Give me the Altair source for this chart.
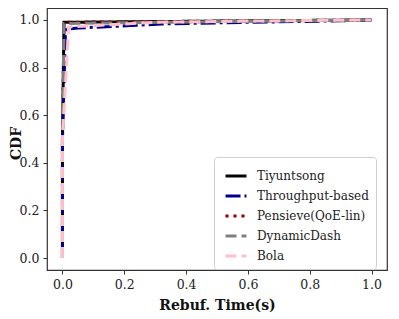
import altair as alt
import pandas as pd

series = ["Tiyuntsong", "Throughput-based", "Pensieve(QoE-lin)", "DynamicDash", "Bola"]
colors = ["#000000", "#00008b", "#8b0000", "#808080", "#ffc0cb"]
dashes = [[1, 0], [15, 4, 3, 4], [3, 5], [11, 5], [11, 5]]

tiy_x = [0.0, 0.0, 0.005, 1.0]
tiy_y = [0.0, 0.5, 0.99, 1.0]
thr_x = [0.0, 0.0, 0.01, 0.05, 0.22, 0.32, 0.6, 0.9, 1.0]
thr_y = [0.0, 0.5, 0.96, 0.966, 0.976, 0.983, 0.99, 0.996, 1.0]
pen_x = [0.0, 0.0, 0.005, 1.0]
pen_y = [0.0, 0.5, 0.99, 1.0]
dyn_x = [0.0, 0.0, 0.005, 1.0]
dyn_y = [0.0, 0.5, 0.985, 1.0]
bol_x = [0.0, 0.0, 0.02, 0.3, 0.6, 1.0]
bol_y = [0.0, 0.5, 0.97, 0.99, 0.995, 1.0]

xs = [tiy_x, thr_x, pen_x, dyn_x, bol_x]
ys = [tiy_y, thr_y, pen_y, dyn_y, bol_y]

font = "DejaVu Serif"

color_scale = alt.Scale(domain=series, range=colors)
dash_scale = alt.Scale(domain=series, range=dashes)

layers = []
for i, name in enumerate(series):
    df = pd.DataFrame({"x": xs[i], "y": ys[i], "s": name, "o": list(range(len(xs[i])))})
    legend = None
    if i == 0:
        legend = alt.Legend(title=None, orient="none", legendX=167, legendY=149)
    enc = dict(
        x=alt.X("x:Q", scale=alt.Scale(domain=[-0.05, 1.05], nice=False, zero=False),
                axis=alt.Axis(title="Rebuf. Time(s)", values=[0, 0.2, 0.4, 0.6, 0.8, 1.0], format=".1f")),
        y=alt.Y("y:Q", scale=alt.Scale(domain=[-0.05, 1.05], nice=False, zero=False),
                axis=alt.Axis(title="CDF", values=[0, 0.2, 0.4, 0.6, 0.8, 1.0], format=".1f",
                              titleX=-24, titleY=135)),
        order="o:Q",
    )
    enc["color"] = alt.Color("s:N", scale=color_scale, legend=legend)
    enc["strokeDash"] = alt.StrokeDash("s:N", scale=dash_scale, legend=legend)
    layers.append(alt.Chart(df).mark_line(strokeWidth=3, clip=True).encode(**enc))

chart = alt.layer(*layers).properties(
    width=340, height=262,
    autosize=alt.AutoSizeParams(type="none"),
    padding={"left": 39, "top": 0, "right": 4, "bottom": 48},
).configure_view(
    stroke="#333", strokeWidth=1.2
).configure_axis(
    grid=False, labelFont=font, titleFont=font, labelFontSize=12.5, titleFontSize=14,
    titleFontWeight="bold", labelColor="#222", titleColor="#111",
    domain=False, tickColor="#333", tickSize=4, labelPadding=4,
).configure_axisX(titlePadding=8).configure_legend(
    labelFont=font, labelFontSize=12, labelColor="#222",
    symbolType="stroke", symbolSize=440, symbolStrokeWidth=3,
    rowPadding=2, padding=7, strokeColor="#d0d0d0", fillColor="white",
    cornerRadius=3, labelOffset=9, symbolOffset=3,
)

chart.save("out.html", embed_options={"renderer": "svg", "actions": False})
